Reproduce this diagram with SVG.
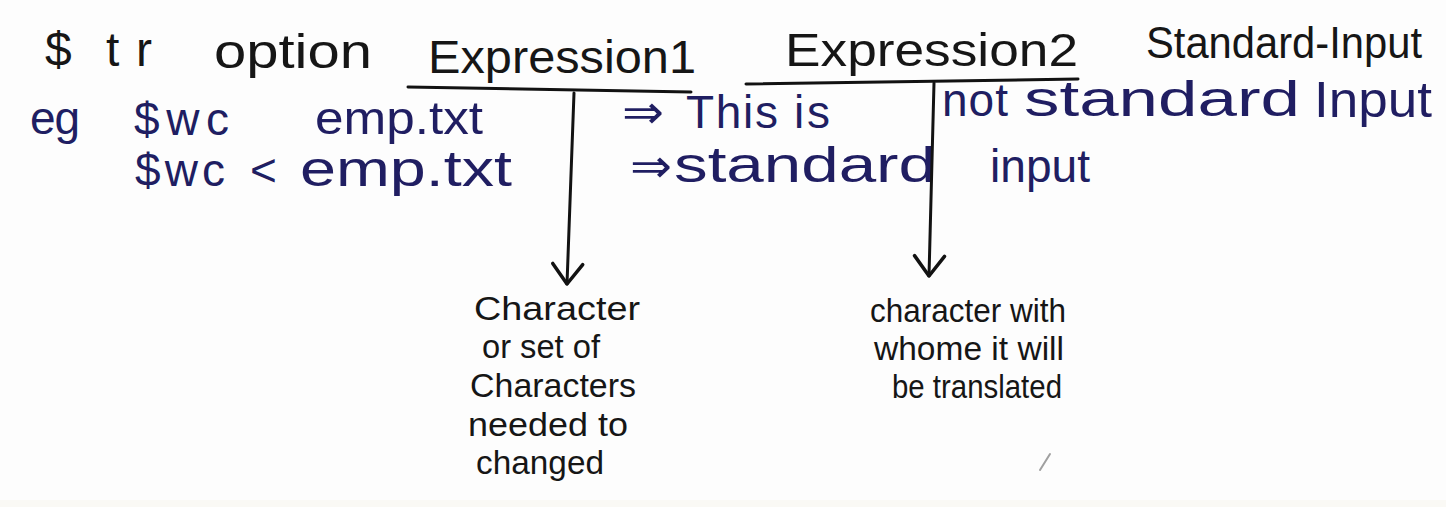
<svg xmlns="http://www.w3.org/2000/svg" width="1446" height="507" viewBox="0 0 1446 507">
<style>
text{font-family:"Liberation Sans","DejaVu Sans",sans-serif}
.k{fill:#161616}
.b{fill:#201e62}
.h1{font-size:48px}
.h2{font-size:46px}
.h4{font-size:50px}
.h3{font-size:33px}
.ln{stroke:#121212;stroke-width:3;fill:none;stroke-linecap:round}
</style>
<defs>
<marker id="v" markerUnits="userSpaceOnUse" viewBox="-24 -18 28 36" refX="0" refY="0" markerWidth="28" markerHeight="36" orient="auto">
<path d="M-20,-15 L0,0 L-20,15" fill="none" stroke="#121212" stroke-width="3.5" stroke-linecap="round" stroke-linejoin="round"/>
</marker>
</defs>
<rect width="1446" height="507" fill="#fdfdfd"/>
<rect y="500" width="1446" height="7" fill="#faf9f5"/>
<g id="command">
<text class="k h1" x="45" y="66">$</text>
<text class="k h1" x="106" y="66" textLength="46" lengthAdjust="spacing">tr</text>
<text class="k h1" x="214" y="68" textLength="158" lengthAdjust="spacingAndGlyphs">option</text>
</g>
<g id="expression1">
<text class="k h2" x="428" y="73" textLength="268" lengthAdjust="spacingAndGlyphs">Expression1</text>
</g>
<g id="expression2">
<text class="k h2" x="785" y="66" textLength="293" lengthAdjust="spacingAndGlyphs">Expression2</text>
</g>
<g id="standard-input">
<text class="k" x="1146" y="58" font-size="44" textLength="276" lengthAdjust="spacingAndGlyphs">Standard-Input</text>
</g>
<g id="example1">
<text class="b h2" x="30" y="134" textLength="50" lengthAdjust="spacing">eg</text>
<text class="b h2" x="134" y="135" textLength="95" lengthAdjust="spacing">$wc</text>
<text class="b h2" x="315" y="134" textLength="168" lengthAdjust="spacingAndGlyphs">emp.txt</text>
<text class="b h2" x="622" y="128" textLength="42" lengthAdjust="spacingAndGlyphs">⇒</text>
<text class="b h2" x="686" y="128" textLength="92" lengthAdjust="spacing">This</text>
<text class="b h2" x="794" y="128" textLength="36" lengthAdjust="spacing">is</text>
<text class="b h2" x="942" y="116" textLength="66" lengthAdjust="spacing">not</text>
<text class="b h4" x="1024" y="116" textLength="276" lengthAdjust="spacingAndGlyphs">standard</text>
<text class="b h4" x="1314" y="117" textLength="118" lengthAdjust="spacingAndGlyphs">Input</text>
</g>
<g id="example2">
<text class="b h2" x="135" y="186" textLength="90" lengthAdjust="spacing">$wc</text>
<text class="b h2" x="250" y="186">&lt;</text>
<text class="b h4" x="300" y="186" textLength="212" lengthAdjust="spacingAndGlyphs">emp.txt</text>
<text class="b h2" x="630" y="182" textLength="42" lengthAdjust="spacingAndGlyphs">⇒</text>
<text class="b h4" x="674" y="182" textLength="262" lengthAdjust="spacingAndGlyphs">standard</text>
<text class="b h2" x="990" y="182" textLength="100" lengthAdjust="spacingAndGlyphs">input</text>
</g>
<g id="note1">
<text class="k h3" x="474" y="320" textLength="166" lengthAdjust="spacingAndGlyphs">Character</text>
<text class="k h3" x="482" y="358" textLength="118" lengthAdjust="spacingAndGlyphs">or set of</text>
<text class="k h3" x="470" y="397" textLength="166" lengthAdjust="spacingAndGlyphs">Characters</text>
<text class="k h3" x="468" y="436" textLength="160" lengthAdjust="spacingAndGlyphs">needed to</text>
<text class="k h3" x="476" y="474" textLength="128" lengthAdjust="spacingAndGlyphs">changed</text>
</g>
<g id="note2">
<text class="k h3" x="870" y="322" textLength="196" lengthAdjust="spacingAndGlyphs">character with</text>
<text class="k h3" x="874" y="360" textLength="190" lengthAdjust="spacingAndGlyphs">whome it will</text>
<text class="k h3" x="892" y="398" textLength="170" lengthAdjust="spacingAndGlyphs">be translated</text>
</g>
<g id="connectors">
<path class="ln" d="M408 87 L691 92"/>
<path class="ln" d="M746 84 L1078 79"/>
<path class="ln" d="M574 93 L567 284" marker-end="url(#v)"/>
<path class="ln" d="M934 83 L929 276" marker-end="url(#v)"/>
</g>
<path d="M1040 470 L1050 454" stroke="#a0a0a0" stroke-width="2" fill="none" stroke-linecap="round"/>
</svg>
